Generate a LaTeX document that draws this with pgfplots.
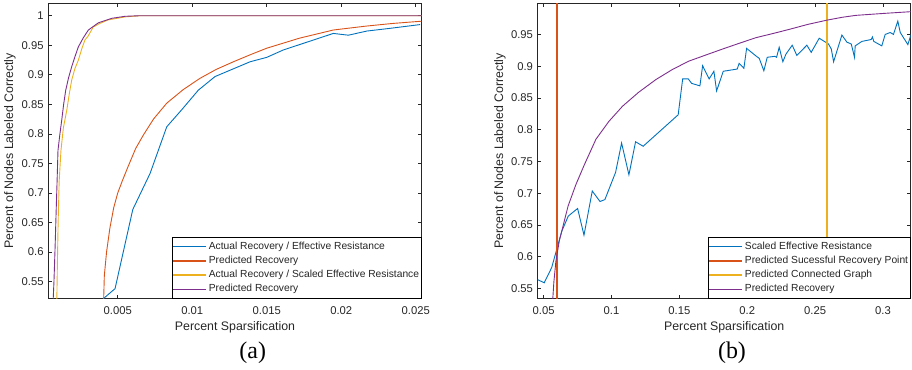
\documentclass[border=0pt]{standalone}
\usepackage{fontspec}
\setmainfont{Liberation Sans}
\newfontfamily\capfont{Liberation Serif}
\usepackage{pgfplots}
\pgfplotsset{compat=1.18}
\definecolor{axgray}{rgb}{0.15,0.15,0.15}
\definecolor{mblue}{rgb}{0,0.447,0.741}
\definecolor{morange}{rgb}{0.85,0.325,0.098}
\definecolor{myellow}{rgb}{0.929,0.694,0.125}
\definecolor{mpurple}{rgb}{0.494,0.184,0.556}
\pgfplotsset{
  mstyle/.style={
    scale only axis,
    scaled ticks=false,
    /pgf/number format/assume math mode=true,
    tick align=inside, major tick length=3.5bp,
    axis line style={draw=axgray, line width=0.6bp},
    every tick/.style={draw=axgray, line width=0.6bp},
    ticklabel style={font=\fontsize{11.3}{13}\selectfont, text=axgray},
    xticklabel style={yshift=-4.2bp},
    yticklabel style={xshift=-1.2bp},
    label style={font=\fontsize{12.4}{14}\selectfont, text=axgray},
    legend style={at={(rel axis cs:1,0)}, anchor=south east, draw=black, line width=0.6bp,
      fill=white, font=\fontsize{10.3}{12}\selectfont, text=axgray,
      inner xsep=0.5bp, inner ysep=2bp, row sep=0bp,
      nodes={inner xsep=1.8bp, inner ysep=2.1bp, text height=7.6bp, text depth=2.4bp}},
    legend cell align=left,
    legend image code/.code={\draw[#1, line width=1.4bp] (0bp,0bp) -- (33bp,0bp);},
    every axis plot/.append style={line width=0.9bp},
  }
}
\begin{document}
\begin{tikzpicture}
\path[use as bounding box] (0,0) rectangle (912bp,370bp);
% ---------------- (a) ----------------
\begin{axis}[mstyle,
  at={(48.3bp,71.3bp)}, anchor=south west, width=373.4bp, height=295.4bp,
  xmin=0.00034, xmax=0.0254, ymin=0.521, ymax=1.021,
  xtick={0.005,0.01,0.015,0.02,0.025}, xticklabels={0.005,0.01,0.015,0.02,0.025},
  ytick={0.55,0.6,0.65,0.7,0.75,0.8,0.85,0.9,0.95,1},
  yticklabels={0.55,0.6,0.65,0.7,0.75,0.8,0.85,0.9,0.95,1},
  xlabel={Percent Sparsification}, ylabel={Percent of Nodes Labeled Correctly},
  xlabel style={at={(axis description cs:0.5,-0.0982)}, anchor=center},
  ylabel style={at={(axis description cs:-0.1026,0.5)}, anchor=center},
]
\addplot[mblue] coordinates {
(0.00403,0.521) (0.00482,0.538) (0.00601,0.672) (0.00717,0.733) (0.00829,0.812)
(0.00930,0.841) (0.01041,0.874) (0.01153,0.897) (0.01388,0.922) (0.01500,0.9295)
(0.01611,0.942) (0.01947,0.970) (0.02048,0.967) (0.02171,0.974) (0.02327,0.9786)
(0.02529,0.985)};
\addlegendentry{Actual Recovery / Effective Resistance}
\addplot[morange] coordinates {
(0.00405,0.515) (0.00410,0.56) (0.00425,0.60) (0.00447,0.64) (0.00473,0.675)
(0.00500,0.70) (0.00530,0.72) (0.00570,0.745) (0.00620,0.775) (0.00672,0.798)
(0.00740,0.825) (0.00829,0.852) (0.00940,0.875) (0.01052,0.894) (0.01160,0.909)
(0.01276,0.922) (0.01390,0.934) (0.01500,0.945) (0.01720,0.962) (0.01947,0.9758)
(0.02170,0.9825) (0.02350,0.987) (0.02529,0.9905) (0.0254,0.9907)};
\addlegendentry{Predicted Recovery}
\addplot[myellow] coordinates {
(0.00091,0.515) (0.00095,0.58) (0.00100,0.65) (0.00107,0.72) (0.00119,0.772)
(0.00135,0.81) (0.00158,0.84) (0.00175,0.868) (0.00191,0.891) (0.00212,0.91)
(0.00236,0.925) (0.00260,0.945) (0.00280,0.959) (0.00300,0.965) (0.00336,0.981)
(0.00380,0.987) (0.00437,0.993) (0.00549,0.998) (0.0065,1.0) (0.0254,1.0)};
\addlegendentry{Actual Recovery / Scaled Effective Resistance}
\addplot[mpurple] coordinates {
(0.00066,0.515) (0.00072,0.55) (0.00079,0.603) (0.00088,0.68) (0.00093,0.72)
(0.00099,0.772) (0.00112,0.80) (0.00124,0.823) (0.00137,0.85) (0.00151,0.874)
(0.00170,0.895) (0.00191,0.9136) (0.00212,0.930) (0.00236,0.9475) (0.00270,0.963)
(0.00303,0.9758) (0.0037,0.988) (0.0046,0.9956) (0.0055,0.999) (0.0065,1.0) (0.0254,1.0)};
\addlegendentry{Predicted Recovery}
\end{axis}
% ---------------- (b) ----------------
\begin{axis}[mstyle,
  at={(537.7bp,71.3bp)}, anchor=south west, width=373bp, height=295.4bp,
  xmin=0.0456, xmax=0.3204, ymin=0.534, ymax=0.999,
  xtick={0.05,0.1,0.15,0.2,0.25,0.3}, xticklabels={0.05,0.1,0.15,0.2,0.25,0.3},
  ytick={0.55,0.6,0.65,0.7,0.75,0.8,0.85,0.9,0.95},
  yticklabels={0.55,0.6,0.65,0.7,0.75,0.8,0.85,0.9,0.95},
  xlabel={Percent Sparsification}, ylabel={Percent of Nodes Labeled Correctly},
  xlabel style={at={(axis description cs:0.5,-0.0982)}, anchor=center},
  ylabel style={at={(axis description cs:-0.101,0.5)}, anchor=center},
]
\addplot[mblue] coordinates {
(0.0456,0.564) (0.0504,0.559) (0.0559,0.583) (0.0633,0.640) (0.0681,0.664)
(0.0750,0.676) (0.0797,0.634) (0.0858,0.7035) (0.0915,0.687) (0.0951,0.690)
(0.1030,0.733) (0.1074,0.779) (0.1128,0.729) (0.1177,0.781) (0.1233,0.774)
(0.1491,0.8235) (0.1524,0.880) (0.1565,0.880) (0.1590,0.873) (0.1651,0.869)
(0.1671,0.9007) (0.1719,0.880) (0.1754,0.892) (0.1774,0.861) (0.1823,0.892)
(0.1926,0.8955) (0.1940,0.9045) (0.1975,0.8967) (0.1995,0.928) (0.2068,0.9155)
(0.2088,0.9124) (0.2122,0.8928) (0.2147,0.914) (0.2203,0.9155) (0.2216,0.914)
(0.2235,0.9297) (0.2262,0.907) (0.2285,0.919) (0.2331,0.933) (0.2365,0.917)
(0.2439,0.933) (0.2471,0.9218) (0.2530,0.944) (0.2598,0.935) (0.2619,0.927)
(0.2636,0.907) (0.2697,0.949) (0.2734,0.9378) (0.2766,0.935) (0.2790,0.914)
(0.2795,0.932) (0.2844,0.939) (0.2913,0.942) (0.2922,0.946) (0.2932,0.939)
(0.2991,0.932) (0.3016,0.950) (0.3053,0.953) (0.3077,0.950) (0.3109,0.971)
(0.3127,0.953) (0.3183,0.934) (0.3212,0.954) (0.3237,0.947)};
\addlegendentry{Scaled Effective Resistance}
\addplot[morange, line width=1.8bp] coordinates {(0.0600,0.534) (0.0600,0.999)};
\addlegendentry{Predicted Sucessful Recovery Point}
\addplot[myellow, line width=1.8bp] coordinates {(0.2590,0.534) (0.2590,0.999)};
\addlegendentry{Predicted Connected Graph}
\addplot[mpurple] coordinates {
(0.0566,0.53) (0.0575,0.56) (0.0590,0.593) (0.0615,0.625) (0.0640,0.646)
(0.0680,0.68) (0.0738,0.714) (0.0800,0.745) (0.0885,0.785) (0.0980,0.813)
(0.1081,0.837) (0.1200,0.859) (0.1327,0.879) (0.1450,0.895) (0.1570,0.908)
(0.1700,0.918) (0.1818,0.927) (0.1940,0.936) (0.2066,0.945) (0.2200,0.952)
(0.2310,0.958) (0.2450,0.966) (0.2590,0.9726) (0.2700,0.977) (0.2800,0.980)
(0.3000,0.983) (0.3204,0.9858)};
\addlegendentry{Predicted Recovery}
\end{axis}
\node[font=\capfont\fontsize{24}{26}\selectfont, anchor=center] at (252.7bp,17bp) {(a)};
\node[font=\capfont\fontsize{24}{26}\selectfont, anchor=center] at (732bp,17bp) {(b)};
\end{tikzpicture}
\end{document}
